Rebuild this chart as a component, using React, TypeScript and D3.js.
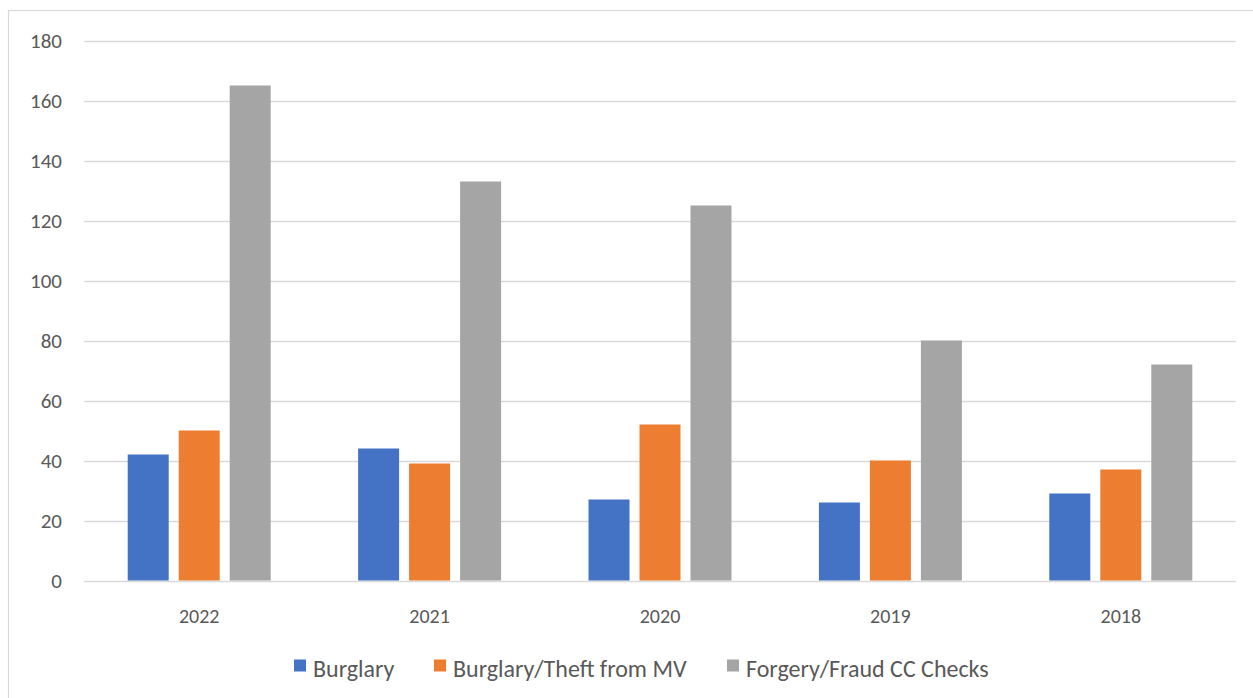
import React from "react";
import * as d3 from "d3";

const years = ["2022", "2021", "2020", "2019", "2018"];
const seriesNames = ["Burglary", "Burglary/Theft from MV", "Forgery/Fraud CC Checks"];
const burglary = [42, 44, 27, 26, 29];
const theftFromMV = [50, 39, 52, 40, 37];
const forgeryFraud = [165, 133, 125, 80, 72];
const yTicks = [0, 20, 40, 60, 80, 100, 120, 140, 160, 180];
const colors = ["#4472C4", "#ED7D31", "#A5A5A5"];

const seriesValues = [burglary, theftFromMV, forgeryFraud];

const W = 1253;
const H = 698;
const plotLeft = 84;
const plotRight = 1236;
const plotTop = 40.5;
const plotBottom = 580.5;
const FONT = "Carlito, Calibri, Lato, 'Liberation Sans', sans-serif";

export default function App() {
  const x0 = d3.scaleBand<string>().domain(years).range([plotLeft, plotRight]).padding(0);
  const x1 = d3
    .scaleBand<string>()
    .domain(seriesNames)
    .range([0, x0.bandwidth()])
    .paddingInner(0.196)
    .paddingOuter(0.857);
  const y = d3.scaleLinear().domain([0, 180]).range([plotBottom, plotTop]);

  const legendItems = [
    { name: seriesNames[0], x: 294 },
    { name: seriesNames[1], x: 434 },
    { name: seriesNames[2], x: 727 },
  ];

  return (
    <svg
      width={W}
      height={H}
      style={{ position: "absolute", left: 0, top: 0, background: "#fff" }}
      fontFamily={FONT}
    >
      <rect x={8.5} y={10.5} width={1260} height={700} fill="#fff" stroke="#d9d9d9" strokeWidth={1.2} />
      {yTicks.map((t) => (
        <g key={t}>
          <line
            x1={plotLeft}
            x2={plotRight}
            y1={Math.round(y(t)) + 0.5}
            y2={Math.round(y(t)) + 0.5}
            stroke="#d9d9d9"
            strokeWidth={1.4}
          />
          <text
            x={62}
            y={y(t)}
            dy="0.36em"
            textAnchor="end"
            fontSize={21}
            fill="#595959"
          >
            {t}
          </text>
        </g>
      ))}
      {years.map((yr, i) => (
        <g key={yr} transform={`translate(${x0(yr)},0)`}>
          {seriesNames.map((s, j) => (
            <rect
              key={s}
              x={x1(s)}
              y={y(seriesValues[j][i])}
              width={x1.bandwidth()}
              height={plotBottom - y(seriesValues[j][i])}
              fill={colors[j]}
            />
          ))}
          <text
            x={x0.bandwidth() / 2}
            y={616}
            dy="0.36em"
            textAnchor="middle"
            fontSize={20}
            fill="#595959"
          >
            {yr}
          </text>
        </g>
      ))}
      {legendItems.map((it, j) => (
        <g key={it.name}>
          <rect x={it.x} y={659.5} width={12} height={12} fill={colors[j]} />
          <text x={it.x + 19} y={677} fontSize={24} fill="#595959">
            {it.name}
          </text>
        </g>
      ))}
    </svg>
  );
}
